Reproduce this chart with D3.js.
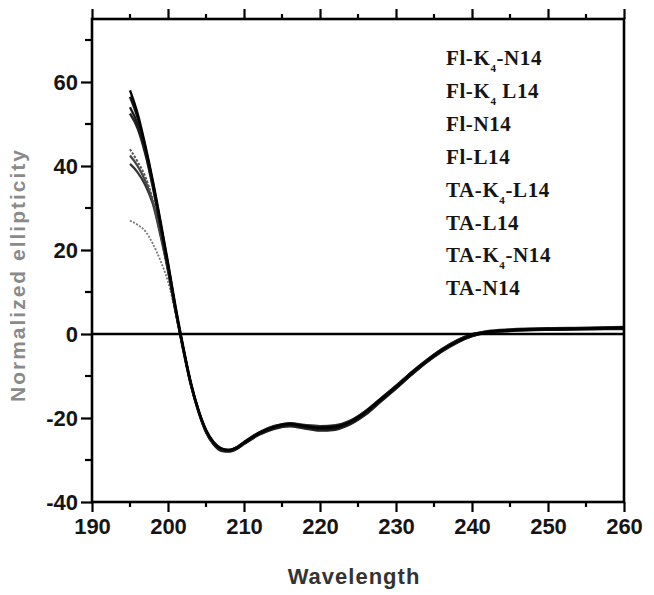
<!DOCTYPE html>
<html>
<head>
<meta charset="utf-8">
<script src="https://cdn.jsdelivr.net/npm/d3@7"></script>
<style>
  html, body { margin: 0; padding: 0; background: #fff; }
  svg { display: block; }
</style>
</head>
<body>
<svg id="chart" width="654" height="595"></svg>
<script>
// ---- data ----
const wavelengths = [195,196,197,198,199,200,201,202,203,204,205,206,207,208,209,210,212,214,216,218,220,222,224,226,228,230,232,234,236,238,240,242,245,250,255,260];

const seriesNames = ["Fl-K4-N14","Fl-K4 L14","Fl-N14","Fl-L14","TA-K4-L14","TA-L14","TA-K4-N14","TA-N14"];

const flK4N14 = [58,52.5,45,36.5,27,17,6.5,-3,-11.5,-18,-22.8,-25.7,-27.2,-27.6,-27.1,-25.9,-23.6,-22.1,-21.4,-21.9,-22.3,-22.1,-20.9,-18.6,-15.6,-12.6,-9.4,-6.5,-3.9,-1.8,-0.3,0.5,0.9,1.2,1.3,1.5];
const flK4L14 = [56.5,51.5,44.5,36,26.5,16.5,6,-3.3,-11.7,-18.2,-23,-25.9,-27.4,-27.8,-27.3,-26.1,-23.8,-22.3,-21.6,-22.1,-22.6,-22.4,-21.1,-18.8,-15.8,-12.8,-9.6,-6.6,-4.0,-1.9,-0.4,0.4,0.8,1.1,1.2,1.3];
const flN14 = [54,50,43.5,35.5,26,16,5.8,-3.5,-11.9,-18.3,-23.2,-26.1,-27.5,-27.7,-27.0,-25.7,-23.4,-21.9,-21.3,-21.8,-22.1,-21.9,-20.7,-18.4,-15.4,-12.4,-9.2,-6.3,-3.7,-1.6,-0.1,0.6,1.0,1.3,1.4,1.6];
const flL14 = [52.5,49,43,35,25.5,15.5,5.5,-3.8,-12.1,-18.5,-23.4,-26.3,-27.8,-28.0,-27.4,-26.2,-24,-22.6,-22.0,-22.5,-23,-22.8,-21.5,-19.2,-16.1,-13.0,-9.8,-6.8,-4.2,-2.1,-0.5,0.3,0.7,1.0,1.1,1.2];
const taK4L14 = [44,41,37.5,32,24.5,15.5,5.5,-3.5,-11.8,-18.2,-23.1,-26,-27.4,-27.7,-27.1,-25.9,-23.7,-22.2,-21.5,-22,-22.4,-22.2,-21,-18.7,-15.7,-12.7,-9.5,-6.6,-4.0,-1.9,-0.4,0.5,0.9,1.2,1.3,1.4];
const taL14 = [42.5,40,36.5,31.5,24,15.3,5.4,-3.4,-11.7,-18.1,-23,-25.9,-27.3,-27.6,-27.0,-25.8,-23.5,-22.0,-21.2,-21.6,-21.9,-21.7,-20.6,-18.3,-15.3,-12.3,-9.1,-6.2,-3.6,-1.5,0.0,0.7,1.1,1.4,1.5,1.7];
const taK4N14 = [40.5,38.5,35.5,31,23.5,15,5.2,-3.6,-12,-18.4,-23.3,-26.2,-27.6,-27.9,-27.3,-26.0,-23.8,-22.4,-21.8,-22.3,-22.8,-22.6,-21.3,-19.0,-15.9,-12.9,-9.7,-6.7,-4.1,-2.0,-0.5,0.4,0.8,1.1,1.2,1.3];
const taN14 = [27,26,24.5,21.5,17.5,12.5,5,-3.2,-11.6,-18,-22.9,-25.8,-27.2,-27.5,-26.9,-25.7,-23.5,-22.0,-21.4,-21.9,-22.3,-22.1,-20.9,-18.6,-15.6,-12.6,-9.4,-6.5,-3.9,-1.8,-0.3,0.5,0.9,1.2,1.3,1.5];

const seriesValues = [flK4N14, flK4L14, flN14, flL14, taK4L14, taL14, taK4N14, taN14];

const xTicks = [190,200,210,220,230,240,250,260];
const yTicks = [-40,-20,0,20,40,60];

// ---- layout ----
const svg = d3.select("#chart");
const pL = 92, pR = 624, pT = 19, pB = 502;

const x = d3.scaleLinear().domain([190, 260]).range([pL, pR]);
const y = d3.scaleLinear().domain([-40, 75]).range([pB, pT]);

// series lines
const styles = [
  {c:"#000", w:2.4, d:null},
  {c:"#111", w:2.4, d:null},
  {c:"#1a1a1a", w:2.4, d:null},
  {c:"#222", w:2.4, d:null},
  {c:"#555", w:2.0, d:"2.5,1.5"},
  {c:"#444", w:2.2, d:null},
  {c:"#333", w:2.2, d:null},
  {c:"#777", w:1.8, d:"2,1.5"}
];

const line = d3.line().x(d => x(d[0])).y(d => y(d[1])).curve(d3.curveMonotoneX);

const gLines = svg.append("g");
seriesValues.slice().reverse().forEach((vals, ri) => {
  const i = seriesValues.length - 1 - ri;
  const pts = wavelengths.map((w, k) => [w, vals[k]]);
  gLines.append("path")
    .datum(pts)
    .attr("d", line)
    .attr("fill", "none")
    .attr("stroke", styles[i].c)
    .attr("stroke-width", styles[i].w)
    .attr("stroke-dasharray", styles[i].d)
    .attr("stroke-linejoin", "round");
});

// zero line
svg.append("line")
  .attr("x1", x(190)).attr("x2", x(260))
  .attr("y1", y(0)).attr("y2", y(0))
  .attr("stroke", "#000").attr("stroke-width", 2.4);

// axes
const fontTick = "bold 22px 'Liberation Sans', Arial, sans-serif";
const fmt = d => String(d);

const xAxisB = d3.axisBottom(x).tickValues(xTicks).tickSize(10).tickPadding(5).tickFormat(fmt);
const gxb = svg.append("g").attr("transform", `translate(0,${pB})`).call(xAxisB);
gxb.selectAll(".tick text").style("font", fontTick).attr("fill", "#151515").attr("dy", "0.78em");
gxb.selectAll(".tick line").attr("stroke-width", 2.2);
gxb.select(".domain").remove();
svg.append("g").selectAll("line").data(d3.range(195, 260, 10)).join("line")
  .attr("x1", d => x(d)).attr("x2", d => x(d)).attr("y1", pB).attr("y2", pB + 5)
  .attr("stroke", "#000").attr("stroke-width", 2.2);

const xAxisT = d3.axisTop(x).tickValues(xTicks).tickSize(10).tickFormat("");
const gxt = svg.append("g").attr("transform", `translate(0,${pT})`).call(xAxisT);
gxt.selectAll(".tick line").attr("stroke-width", 2.2);
gxt.select(".domain").remove();
svg.append("g").selectAll("line").data(d3.range(195, 260, 10)).join("line")
  .attr("x1", d => x(d)).attr("x2", d => x(d)).attr("y1", pT).attr("y2", pT - 5)
  .attr("stroke", "#000").attr("stroke-width", 2.2);

const yAxisL = d3.axisLeft(y).tickValues(yTicks).tickSize(11).tickPadding(3).tickFormat(fmt);
const gyl = svg.append("g").attr("transform", `translate(${pL},0)`).call(yAxisL);
gyl.selectAll(".tick text").style("font", fontTick).attr("fill", "#151515");
gyl.selectAll(".tick line").attr("stroke-width", 2.2);
gyl.select(".domain").remove();
svg.append("g").selectAll("line").data([-30,-10,10,30,50,70]).join("line")
  .attr("x1", pL).attr("x2", pL - 7).attr("y1", d => y(d)).attr("y2", d => y(d))
  .attr("stroke", "#000").attr("stroke-width", 2.2);

// frame
svg.append("rect")
  .attr("x", pL).attr("y", pT).attr("width", pR - pL).attr("height", pB - pT)
  .attr("fill", "none").attr("stroke", "#000").attr("stroke-width", 2.6);

// axis titles
svg.append("text")
  .attr("x", 354).attr("y", 584)
  .attr("text-anchor", "middle")
  .style("font", "bold 22px 'Liberation Sans', Arial, sans-serif")
  .style("letter-spacing", "1px")
  .attr("fill", "#333")
  .text("Wavelength");

svg.append("text")
  .attr("transform", "translate(25,275) rotate(-90)")
  .attr("text-anchor", "middle")
  .style("font", "bold 21px 'Liberation Sans', Arial, sans-serif")
  .style("letter-spacing", "2px")
  .attr("fill", "#8a8a8a")
  .text("Normalized ellipticity");

// legend (text only)
const legendParts = [
  ["Fl-K", "4", "-N14"],
  ["Fl-K", "4", " L14"],
  ["Fl-N14", "", ""],
  ["Fl-L14", "", ""],
  ["TA-K", "4", "-L14"],
  ["TA-L14", "", ""],
  ["TA-K", "4", "-N14"],
  ["TA-N14", "", ""]
];
const gLeg = svg.append("g")
  .style("font", "bold 21px 'Liberation Serif', 'Times New Roman', serif")
  .style("letter-spacing", "0.6px");
legendParts.forEach((p, i) => {
  const t = gLeg.append("text")
    .attr("x", 446).attr("y", 65 + i * 32.9)
    .attr("fill", "#151515");
  t.append("tspan").text(p[0]);
  if (p[1]) {
    t.append("tspan").attr("dy", 7).style("font-size", "11px").text(p[1]);
    t.append("tspan").attr("dy", -7).text(p[2]);
  }
});
</script>
</body>
</html>
